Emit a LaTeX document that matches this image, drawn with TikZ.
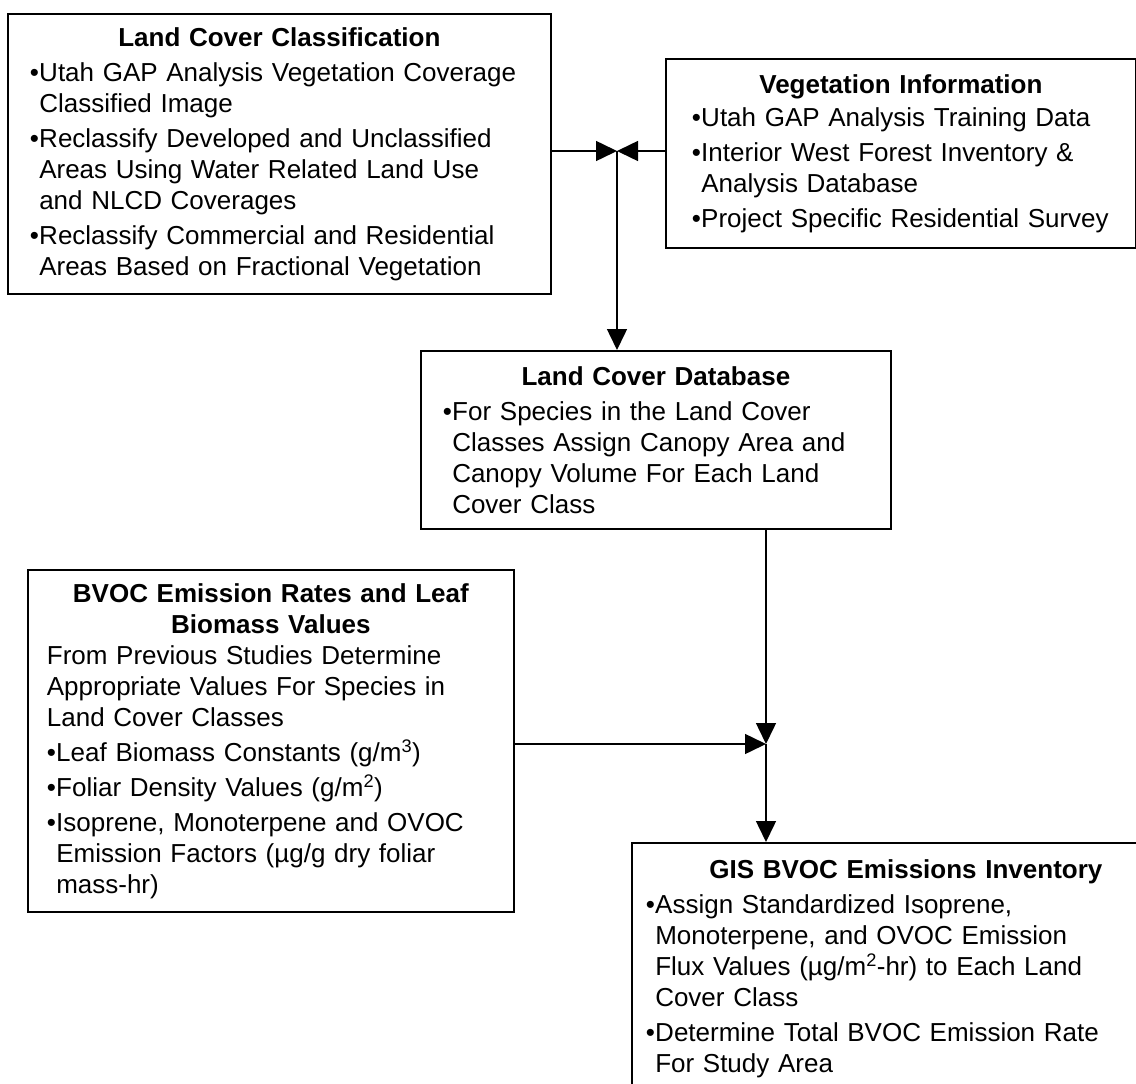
\documentclass[tikz,border=0pt]{standalone}
\usepackage{fontspec}
\setmainfont{Liberation Sans}
\usetikzlibrary{arrows.meta, positioning}

\setlength{\parindent}{0pt}
\newcommand{\itm}{\makebox[0.36em][l]{\textbullet}}
\newcommand{\cnt}{\hspace*{0.36em}}

\tikzset{
	infobox/.style={draw, line width=1.8pt, anchor=north west, inner ysep=0pt,
		align=left, font=\fontsize{26}{31}\selectfont},
	flow/.style={line width=1.5pt, -{Triangle[length=21pt,width=20pt]}}
}

\begin{document}
\begin{tikzpicture}[x=1pt,y=-1pt]
					\useasboundingbox (0,0) rectangle (1136,1084);
					\clip (0,0) rectangle (1136,1084);

					%% inputs
					\node[infobox,
						inner xsep=22pt,
						text width=499pt,
						minimum height=280pt
					] (lcc) at (7,13) {{\centering\bfseries Land Cover Classification\par}\vspace{4pt}
						\itm Utah GAP Analysis Vegetation Coverage\\
						\cnt Classified Image\\[4pt]
						\itm Reclassify Developed and Unclassified\\
						\cnt Areas Using Water Related Land Use\\
						\cnt and NLCD Coverages\\[4pt]
						\itm Reclassify Commercial and Residential\\
						\cnt Areas Based on Fractional Vegetation};

					\node[infobox,
						inner xsep=26pt,
						text width=418pt,
						minimum height=189pt
					] (veg) at (665,58) {{\centering\bfseries Vegetation Information\par}\vspace{2pt}
						\itm Utah GAP Analysis Training Data\\[4pt]
						\itm Interior West Forest Inventory \&\\
						\cnt Analysis Database\\[4pt]
						\itm Project Specific Residential Survey};

					%% database
					\node[infobox,
						inner xsep=22pt,
						text width=426pt,
						minimum height=178pt
					] (db) at (420,350) {{\centering\bfseries Land Cover Database\par}\vspace{4pt}
						\itm For Species in the Land Cover\\
						\cnt Classes Assign Canopy Area and\\
						\cnt Canopy Volume For Each Land\\
						\cnt Cover Class};

					\node[infobox,
						inner xsep=19pt,
						text width=448pt,
						minimum height=342pt
					] (rates) at (27,569) {{\centering\bfseries BVOC Emission Rates and Leaf\\Biomass Values\par}
						From Previous Studies Determine\\
						Appropriate Values For Species in\\
						Land Cover Classes\\[4pt]
						\itm Leaf Biomass Constants (g/m\textsuperscript{3})\\[4pt]
						\itm Foliar Density Values (g/m\textsuperscript{2})\\[4pt]
						\itm Isoprene, Monoterpene and OVOC\\
						\cnt Emission Factors (µg/g dry foliar\\
						\cnt mass-hr)};

					%% output
					\node[infobox,
						inner xsep=14pt,
						inner ysep=17pt,
						text width=520pt
					] (gis) at (631,842) {{\centering\bfseries GIS BVOC Emissions Inventory\par}\vspace{4pt}
						\itm Assign Standardized Isoprene,\\
						\cnt Monoterpene, and OVOC Emission\\
						\cnt Flux Values (µg/m\textsuperscript{2}-hr) to Each Land\\
						\cnt Cover Class\\[4pt]
						\itm Determine Total BVOC Emission Rate\\
						\cnt For Study Area\\[40pt]\mbox{}};

					\coordinate (j1) at (617,151);
					\coordinate (j2) at (766,744);

					\draw[flow] (lcc.east |- j1) -- (j1);
					\draw[flow] (veg.west |- j1) -- (j1);
					\draw[flow] (j1) -- (j1 |- db.north);

					\draw[flow] (db.south -| j2) -- (j2);
					\draw[flow] (rates.east |- j2) -- (j2);
					\draw[flow] (j2) -- (j2 |- gis.north);
\end{tikzpicture}
\end{document}
